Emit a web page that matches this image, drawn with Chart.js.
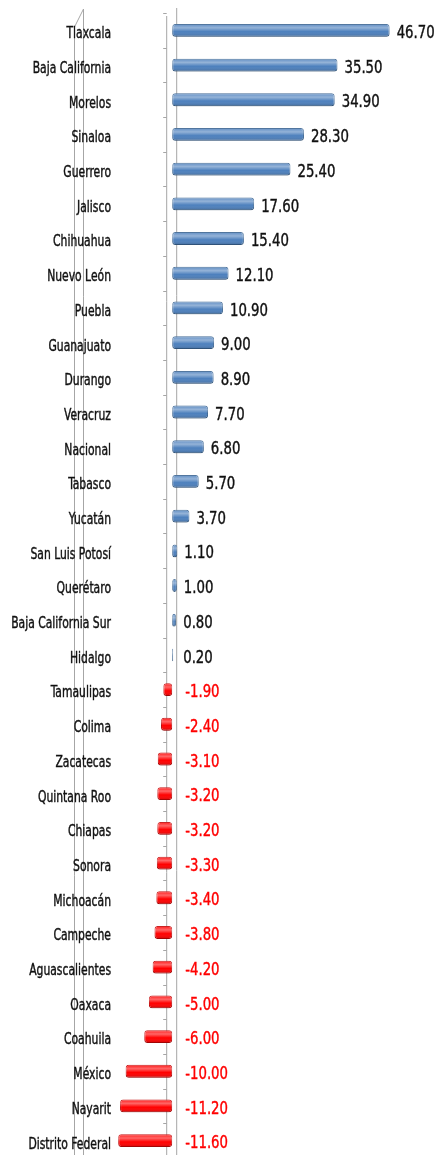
<!DOCTYPE html>
<html>
<head>
<meta charset="utf-8">
<script src="https://cdn.jsdelivr.net/npm/chart.js@4"></script>
<style>
  html, body { margin: 0; padding: 0; background: #fff; overflow: hidden; }
  #wrap { position: relative; width: 441px; height: 1158px; }
</style>
</head>
<body>
<div id="wrap"><canvas id="myChart"></canvas></div>
<script>
const ESTADOS = ['Tlaxcala', 'Baja California', 'Morelos', 'Sinaloa', 'Guerrero', 'Jalisco',
    'Chihuahua', 'Nuevo León', 'Puebla', 'Guanajuato', 'Durango', 'Veracruz', 'Nacional',
    'Tabasco', 'Yucatán', 'San Luis Potosí', 'Querétaro', 'Baja California Sur', 'Hidalgo',
    'Tamaulipas', 'Colima', 'Zacatecas', 'Quintana Roo', 'Chiapas', 'Sonora', 'Michoacán',
    'Campeche', 'Aguascalientes', 'Oaxaca', 'Coahuila', 'México', 'Nayarit', 'Distrito Federal'];
const VARIACION = [46.7, 35.5, 34.9, 28.3, 25.4, 17.6, 15.4, 12.1, 10.9, 9.0, 8.9, 7.7, 6.8,
    5.7, 3.7, 1.1, 1.0, 0.8, 0.2, -1.9, -2.4, -3.1, -3.2, -3.2, -3.3, -3.4, -3.8, -4.2,
    -5.0, -6.0, -10.0, -11.2, -11.6];

const FONT = "'DejaVu Sans Condensed', 'DejaVu Sans', sans-serif";
const BLUE = '#4d80bd';
const RED = '#ff0000';
const LINE = '#a6a6a6';

// draw text squeezed horizontally (the original uses a narrow font)
function narrowText(c, txt, x, y, align, squeeze) {
    c.save();
    c.translate(x, y);
    c.scale(squeeze, 1);
    c.textAlign = align;
    c.lineWidth = 0.4;
    c.strokeStyle = c.fillStyle;
    c.fillText(txt, 0, 0);
    c.strokeText(txt, 0, 0);
    c.restore();
}

// fake 3D walls: two grey lines near the zero axis and two on the left
const wallLines = {
    id: 'wallLines',
    beforeDraw: function(chart) {
        var c = chart.ctx, area = chart.chartArea;
        var x0 = chart.scales.x.getPixelForValue(0);
        var y = chart.scales.y;
        c.save();
        c.strokeStyle = LINE;
        c.lineWidth = 1;
        c.beginPath();
        c.moveTo(area.left - 39.5, chart.height);
        c.lineTo(area.left - 39.5, area.top + 14);
        c.lineTo(area.left - 30.5, area.top - 4);
        c.lineTo(area.left - 30.5, chart.height);
        c.moveTo(x0 - 5.5, area.top + 3);
        c.lineTo(x0 - 5.5, chart.height);
        c.moveTo(x0 + 4.5, area.top - 5);
        c.lineTo(x0 + 4.5, chart.height);
        var step = (y.getPixelForValue(1) - y.getPixelForValue(0));
        for (var i = 0; i <= ESTADOS.length; i++) {
            var ty = Math.round(y.getPixelForValue(i) - step / 2) + 0.5;
            c.moveTo(x0 - 9, ty);
            c.lineTo(x0 - 5.5, ty);
        }
        c.stroke();

        // category labels
        c.fillStyle = '#111';
        c.font = '15px ' + FONT;
        c.textBaseline = 'middle';
        ESTADOS.forEach(function(name, i) {
            narrowText(c, name, area.left - 3, y.getPixelForValue(i) + 4, 'right', 0.8);
        });
        c.restore();
    }
};

// cylinder shading + value labels
const barDecor = {
    id: 'barDecor',
    afterDatasetsDraw: function(chart) {
        var c = chart.ctx;
        var x0 = chart.scales.x.getPixelForValue(0);
        var meta = chart.getDatasetMeta(0);
        c.save();
        meta.data.forEach(function(bar, i) {
            var h = bar.height;
            var top = bar.y - h / 2;
            var left = Math.min(bar.x, bar.base);
            var w = Math.abs(bar.x - bar.base);
            var g = c.createLinearGradient(0, top, 0, top + h);
            g.addColorStop(0, 'rgba(255,255,255,0.1)');
            g.addColorStop(0.3, 'rgba(255,255,255,0.4)');
            g.addColorStop(0.6, 'rgba(255,255,255,0)');
            g.addColorStop(1, 'rgba(0,0,0,0.2)');
            c.fillStyle = g;
            c.beginPath();
            c.roundRect(left, top, w, h, 3);
            c.fill();

            var v = VARIACION[i];
            c.font = '18px ' + FONT;
            c.textBaseline = 'middle';
            if (v >= 0) {
                c.fillStyle = '#111';
                narrowText(c, v.toFixed(2), Math.max(bar.x, x0 + 4) + 7, bar.y + 3, 'left', 0.82);
            } else {
                c.fillStyle = RED;
                narrowText(c, v.toFixed(2), x0 + 13, bar.y + 3, 'left', 0.82);
            }
        });
        c.restore();
    }
};

var ctx = document.getElementById('myChart').getContext('2d');
new Chart(ctx, {
    type: 'bar',
    data: {
        labels: ESTADOS,
        datasets: [{
            data: VARIACION,
            backgroundColor: VARIACION.map(function(v) { return v < 0 ? RED : BLUE; }),
            borderColor: VARIACION.map(function(v) { return v < 0 ? '#c00000' : '#35608f'; }),
            borderWidth: 1,
            borderRadius: 3,
            borderSkipped: false,
            barPercentage: 0.37,
            categoryPercentage: 1
        }]
    },
    plugins: [wallLines, barDecor],
    options: {
        indexAxis: 'y',
        responsive: true,
        maintainAspectRatio: false,
        animation: false,
        layout: { padding: { top: 13, right: 36, bottom: 0, left: 0 } },
        plugins: {
            legend: { display: false },
            tooltip: { enabled: false }
        },
        scales: {
            x: {
                display: false,
                min: -12.5,
                max: 50
            },
            y: {
                afterFit: function(scale) { scale.width = 114; },
                grid: { display: false, drawTicks: false },
                border: { display: false },
                ticks: { display: false }
            }
        }
    }
});
</script>
</body>
</html>
